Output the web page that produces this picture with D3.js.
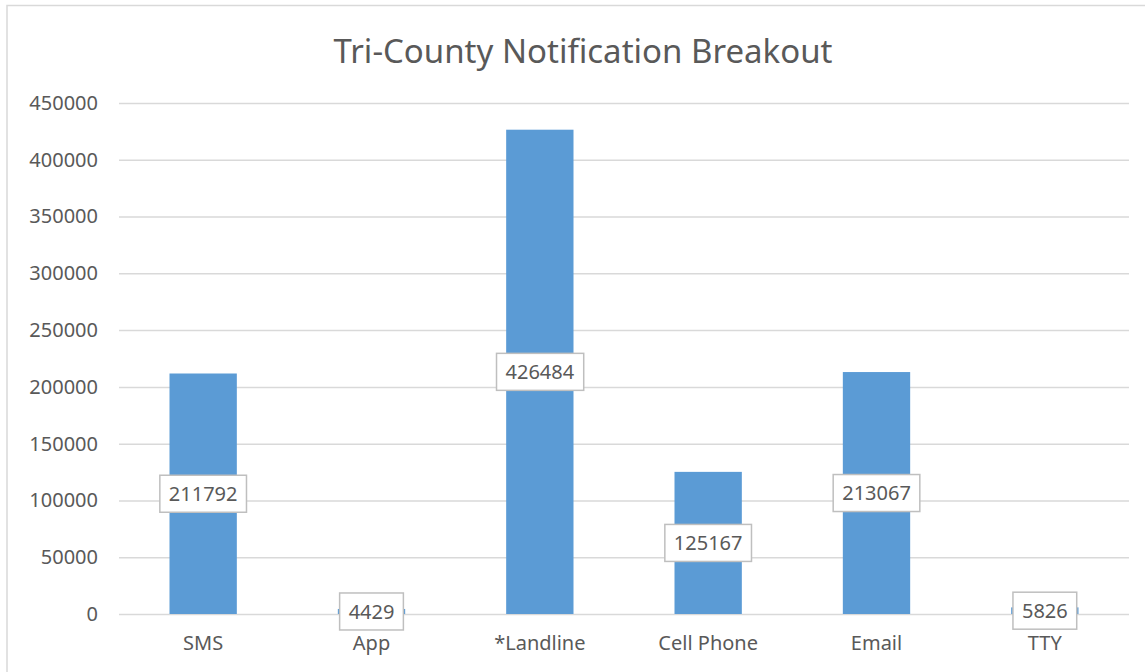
<!DOCTYPE html>
<html>
<head>
<meta charset="utf-8">
<script src="https://cdn.jsdelivr.net/npm/d3@7"></script>
<style>
  body { margin: 0; background: #fff; }
  svg { display: block; }
  svg text { font-family: "Noto Sans", "Open Sans", sans-serif; }
</style>
</head>
<body>
<svg width="1145" height="672"></svg>
<script>
const categories = ["SMS", "App", "*Landline", "Cell Phone", "Email", "TTY"]
const counts = [211792, 4429, 426484, 125167, 213067, 5826]
const yTicks = [0, 50000, 100000, 150000, 200000, 250000, 300000, 350000, 400000, 450000]
const title = "Tri-County Notification Breakout"

const svg = d3.select("svg")
const W = 1145, H = 672
const margin = { top: 103, right: 16, bottom: 58, left: 119 }
const textColor = "#595959"

// chart border
svg.append("rect")
	.attr("x", 7).attr("y", 5.5)
	.attr("width", W).attr("height", H)
	.attr("fill", "#fff")
	.attr("stroke", "#d9d9d9")
	.attr("stroke-width", 1.5)

const x = d3.scaleBand()
	.domain(categories)
	.range([margin.left, W - margin.right])
	.paddingInner(0.6)
	.paddingOuter(0.3)

const y = d3.scaleLinear()
	.domain([0, 450000])
	.range([H - margin.bottom, margin.top])

// gridlines + y labels
const yAxis = svg.append("g")
	.attr("transform", `translate(${margin.left},0)`)
	.call(d3.axisLeft(y).tickValues(yTicks).tickFormat(d3.format("d"))
		.tickSize(-(W - margin.left - margin.right)).tickPadding(21))
yAxis.select(".domain").remove()
yAxis.selectAll(".tick line").attr("stroke", "#d9d9d9").attr("stroke-width", 1.5)
yAxis.selectAll(".tick text")
	.attr("fill", textColor)
	.style("font-size", "20px")

// bars
svg.selectAll(".bar")
	.data(counts)
	.enter()
	.append("rect")
	.attr("class", "bar")
	.attr("x", (d, i) => x(categories[i]))
	.attr("width", x.bandwidth())
	.attr("y", d => y(d))
	.attr("height", d => y(0) - y(d))
	.attr("fill", "#5b9bd5")

// category labels
const xAxis = svg.append("g")
	.attr("transform", `translate(0,${y(0)})`)
	.call(d3.axisBottom(x).tickSize(0).tickPadding(22))
xAxis.select(".domain").remove()
xAxis.selectAll(".tick text")
	.attr("fill", textColor)
	.style("font-size", "20px")

// data labels in boxes, centered on bar
const label = svg.selectAll(".label")
	.data(counts)
	.enter()
	.append("g")
	.attr("class", "label")
	.attr("transform", (d, i) => `translate(${x(categories[i]) + x.bandwidth() / 2},${y(d / 2)})`)
label.append("text")
	.attr("text-anchor", "middle")
	.attr("dy", "0.36em")
	.attr("fill", textColor)
	.style("font-size", "20px")
	.text(d => d)
label.each(function () {
	const g = d3.select(this)
	const bb = g.select("text").node().getBBox()
	g.insert("rect", "text")
		.attr("x", bb.x - 9)
		.attr("y", -18.5)
		.attr("width", bb.width + 18)
		.attr("height", 37)
		.attr("fill", "#fff")
		.attr("stroke", "#bfbfbf")
		.attr("stroke-width", 1.5)
})

// title
svg.append("text")
	.attr("x", 583)
	.attr("y", 63)
	.attr("text-anchor", "middle")
	.attr("fill", textColor)
	.style("font-size", "33px")
	.text(title)
</script>
</body>
</html>
